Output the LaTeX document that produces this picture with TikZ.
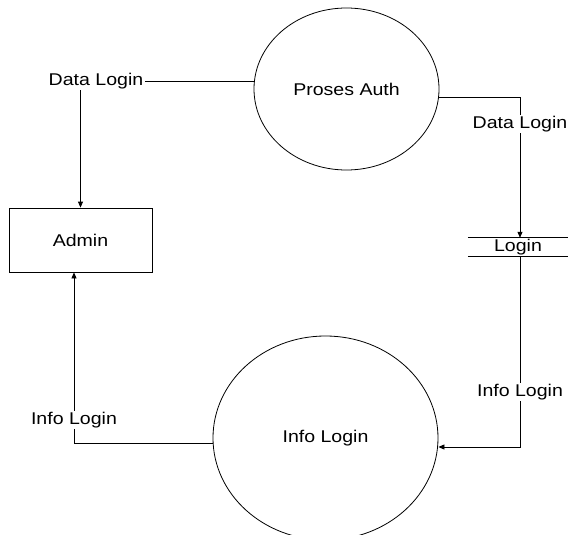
\documentclass[tikz,border=0pt]{standalone}
\usepackage{fontspec}
\setmainfont[FakeStretch=1.15]{Liberation Sans}
\usetikzlibrary{shapes.geometric,arrows.meta,backgrounds}
\begin{document}
\begin{tikzpicture}[x=1pt,y=-1pt,
  every node/.style={font=\fontsize{17}{20}\selectfont, text=black},
  proc/.style={draw, ellipse, inner sep=0pt, line width=0.8pt},
  ent/.style={draw, rectangle, minimum width=143pt, minimum height=64pt, line width=0.8pt},
  store/.style={minimum width=100pt, minimum height=18pt, inner sep=0pt},
  flowlabel/.style={fill=white, inner sep=1.5pt},
  flow/.style={line width=0.8pt, -{Triangle[length=6pt,width=5pt]}},
  plain/.style={line width=0.8pt}]
\useasboundingbox (0,0) rectangle (568,535);

\node[proc, minimum width=185pt, minimum height=162pt] (auth) at (346.5,89) {Proses Auth};
\node[ent] (admin) at (80.5,240) {Admin};
\node[proc, minimum width=225pt, minimum height=204pt] (info) at (325.5,438) {Info Login};
\node[store] (login) at (518,247) {Login};
\draw[plain] (login.north west) -- (login.north east);
\draw[plain] (login.south west) -- (login.south east);

\node[flowlabel] (dl1) at (96,81) {Data Login};
\node[flowlabel] (dl2) at (520,124) {Data Login};
\node[flowlabel] (il1) at (74,420) {Info Login};
\node[flowlabel] (il2) at (520,392) {Info Login};

\coordinate (r1) at (520,97);
\coordinate (r2) at (520,447);
\coordinate (l1) at (74,443);

\begin{scope}[on background layer]
\draw[plain] (dl1.east) -- (auth.west |- dl1.east);
\draw[flow] (dl1 -| admin.north) -- (admin.north);
\draw[flow] (auth.east |- r1) -- (r1) -- (r1 |- login.north);
\draw[flow] (r2 |- login.south) -- (r2) -- (info.east |- r2);
\draw[flow] (info.west |- l1) -- (l1) -- (l1 |- admin.south);
\end{scope}
\end{tikzpicture}
\end{document}
